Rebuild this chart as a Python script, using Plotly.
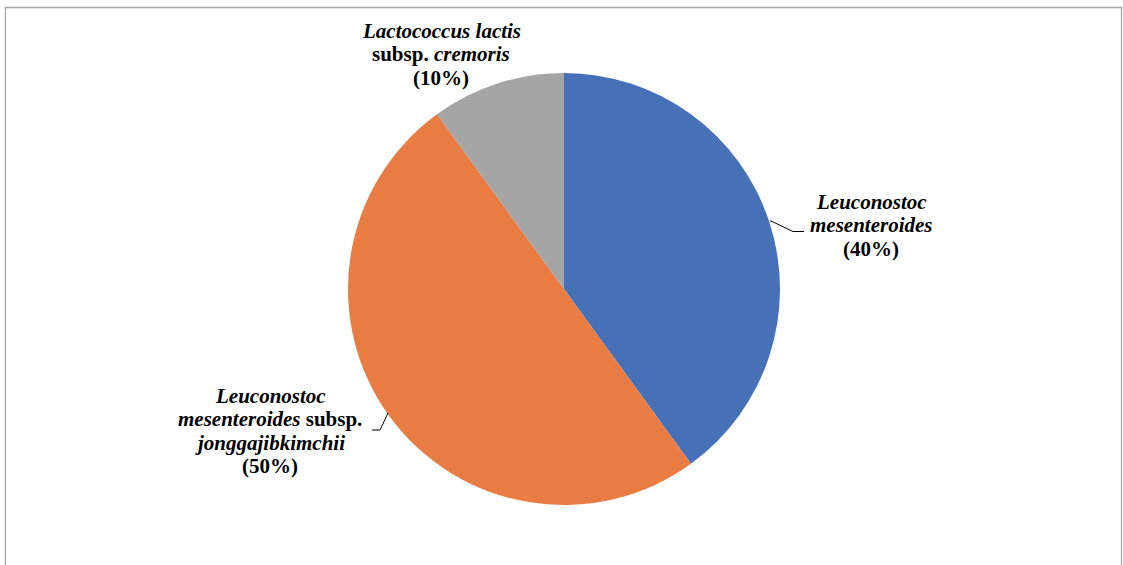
import plotly.graph_objects as go

W, H = 1123, 565

# Data
species = ["Leuconostoc mesenteroides",
           "Leuconostoc mesenteroides subsp. jonggajibkimchii",
           "Lactococcus lactis subsp. cremoris"]
percent = [40, 50, 10]
colors = ["#4671B6", "#E97C43", "#A5A5A5"]

# Label lines (italic genus/species, roman 'subsp.')
label_lines = [
    ["<i>Leuconostoc</i>", "<i>mesenteroides</i>"],
    ["<i>Leuconostoc</i>", "<i>mesenteroides</i> subsp.", "<i>jonggajibkimchii</i>"],
    ["<i>Lactococcus lactis</i>", "subsp. <i>cremoris</i>"],
]

def px(x):
    return x / W

def py(y):
    return 1 - y / H

cx, cy, r = 564, 289, 216

fig = go.Figure(go.Pie(
    labels=species,
    values=percent,
    sort=False,
    direction="clockwise",
    rotation=0,
    marker=dict(colors=colors, line=dict(width=0)),
    textinfo="none",
    hoverinfo="label+percent",
    showlegend=False,
    domain=dict(x=[px(cx - r), px(cx + r)], y=[py(cy + r), py(cy - r)]),
))

# label block positions (pixels): centre x, first line centre y, line step
label_pos = [(871, 202), (270, 396), (441, 31)]
step = 23.3
annotations = []
for lines, p, (lx, ly) in zip(label_lines, percent, label_pos):
    all_lines = lines + ["(" + str(p) + "%)"]
    for i, t in enumerate(all_lines):
        annotations.append(dict(
            text="<b>" + t + "</b>",
            x=px(lx), y=py(ly + i * step), xref="paper", yref="paper",
            xanchor="center", yanchor="middle", showarrow=False,
            font=dict(family="Liberation Serif", size=21, color="#000000"),
        ))

# leader lines
leaders = [
    [(770, 220.5), (793, 231.5), (804, 231.5)],
    [(388, 413), (380, 430), (372, 430)],
]
shapes = []
for pts in leaders:
    path = "M " + " L ".join(f"{px(x)},{py(y)}" for x, y in pts)
    shapes.append(dict(type="path", path=path, xref="paper", yref="paper",
                       line=dict(color="#000000", width=1)))

# chart border
shapes.append(dict(type="rect", xref="paper", yref="paper",
                   x0=px(5.5), x1=px(1121.5), y0=-0.05, y1=py(7.5),
                   line=dict(color="#A6A6A6", width=1.3)))

fig.update_layout(
    width=W, height=H, autosize=False,
    margin=dict(l=0, r=0, t=0, b=0),
    paper_bgcolor="white", plot_bgcolor="white",
    annotations=annotations, shapes=shapes,
)

fig.write_html("out.html")
